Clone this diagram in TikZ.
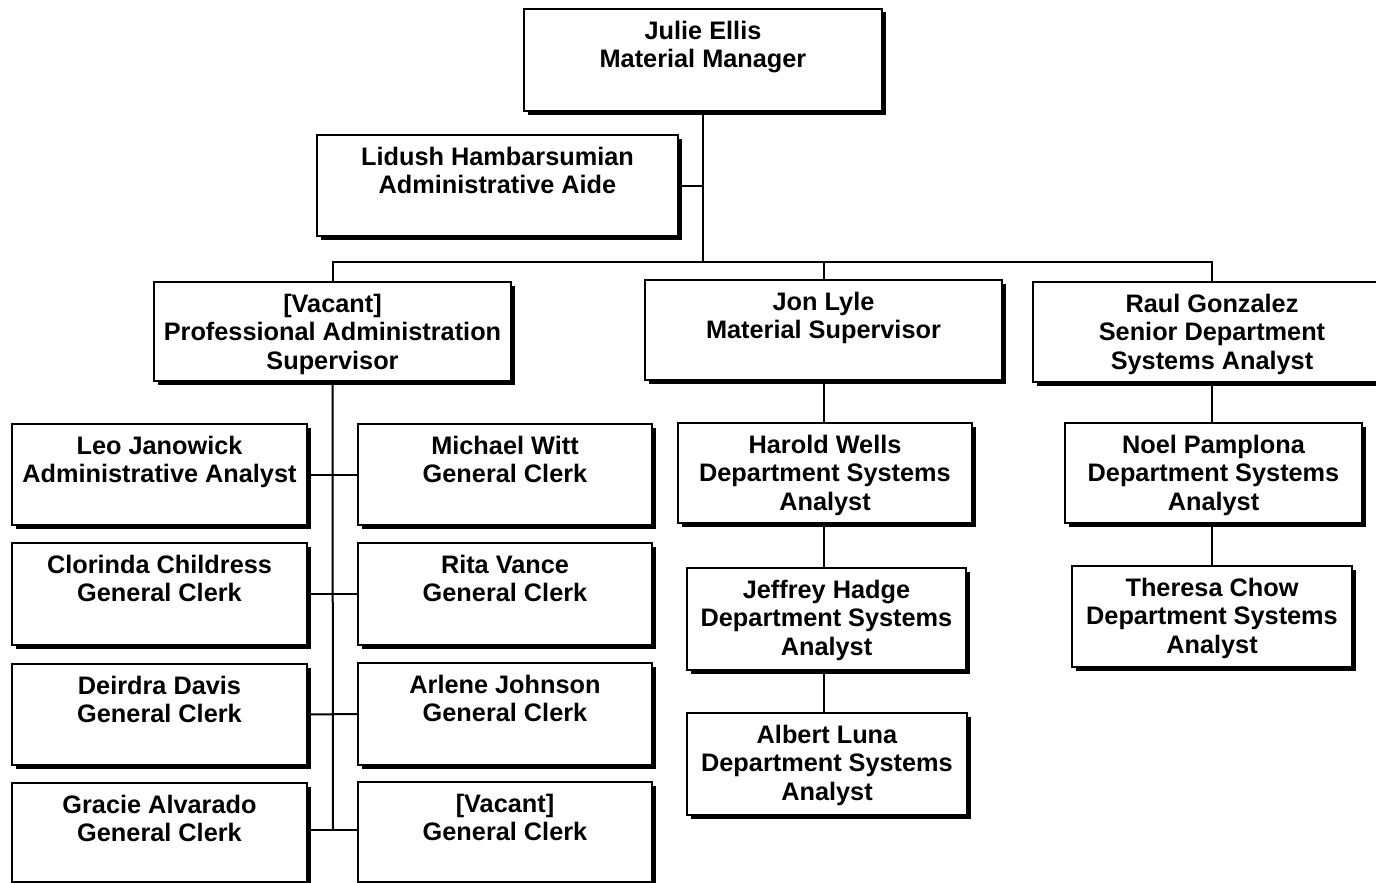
\documentclass[tikz,border=0pt]{standalone}
\usepackage{fontspec}
\setmainfont{Liberation Sans}
\usetikzlibrary{shadows}
\tikzset{
  box/.style={draw=black, fill=white, line width=1.3pt, inner sep=0pt,
    drop shadow={shadow xshift=3.5pt, shadow yshift=-3.5pt, fill=black, opacity=1}},
  lbl/.style={inner sep=0pt, align=center, anchor=north,
    font=\bfseries\fontsize{25.3}{28.5}\selectfont},
  link/.style={draw=black, line width=2pt}
}
\newcommand\obox[6]{%
  \node[box, minimum width={#4-#2}, minimum height={#5-#3}] (#1) at ({(#2+#4)/2},{(#3+#5)/2}) {};
  \node[lbl] (#1-t) at ({(#2+#4)/2},{#3+9}) {\rule{0pt}{21pt}#6};
}
\begin{document}
\begin{tikzpicture}[x=1pt,y=-1pt]
\useasboundingbox (0,0) rectangle (1376,883);
\clip (0,0) rectangle (1376,883);
\fill[white] (0,0) rectangle (1376,883);

\coordinate (bus) at (703,262);
\coordinate (tend) at (333,830);

\obox{julie}{524}{9}{882}{111}{Julie Ellis\\Material Manager}
\obox{lidush}{317}{135}{678}{236}{Lidush Hambarsumian\\Administrative Aide}
\obox{vps}{154}{282}{511}{381}{[Vacant]\\Professional Administration\\Supervisor}
\obox{jon}{645}{280}{1002}{380}{Jon Lyle\\Material Supervisor}
\obox{raul}{1033}{282}{1391}{382}{Raul Gonzalez\\Senior Department\\Systems Analyst}

\obox{leo}{12}{424}{307}{525}{Leo Janowick\\Administrative Analyst}
\obox{mw}{358}{424}{652}{525}{Michael Witt\\General Clerk}
\obox{clo}{12}{543}{307}{645}{Clorinda Childress\\General Clerk}
\obox{rita}{358}{543}{652}{645}{Rita Vance\\General Clerk}
\obox{dei}{12}{664}{307}{765}{Deirdra Davis\\General Clerk}
\obox{arl}{358}{663}{652}{765}{Arlene Johnson\\General Clerk}
\obox{gra}{12}{783}{307}{882}{Gracie Alvarado\\General Clerk}
\obox{vgc}{358}{782}{652}{882}{[Vacant]\\General Clerk}

\obox{harold}{678}{423}{972}{523}{Harold Wells\\Department Systems\\Analyst}
\obox{jeff}{687}{568}{966}{670}{Jeffrey Hadge\\Department Systems\\Analyst}
\obox{albert}{687}{713}{967}{815}{Albert Luna\\Department Systems\\Analyst}
\obox{noel}{1065}{423}{1362}{523}{Noel Pamplona\\Department Systems\\Analyst}
\obox{theresa}{1072}{566}{1352}{667}{Theresa Chow\\Department Systems\\Analyst}

% top structure
\draw[link] (julie.south) -- (julie.south |- bus);
\draw[link] (lidush.east) -- (lidush.east -| julie.south);
\draw[link] (vps.north) -- (vps.north |- bus) -- (raul.north |- bus) -- (raul.north);
\draw[link] (jon.north) -- (jon.north |- bus);

% left trunk
\draw[link] (vps.south) -- (tend);
\draw[link] (leo.east) -- (mw.west);
\draw[link] (clo.east) -- (rita.west);
\draw[link] (dei.east) -- (arl.west);
\draw[link] (gra.east |- tend) -- (vgc.west |- tend);

% middle column
\draw[link] (jon.south) -- (jon.south |- harold.north);
\draw[link] (harold.south -| jon.south) -- (jon.south |- jeff.north);
\draw[link] (jeff.south -| jon.south) -- (jon.south |- albert.north);

% right column
\draw[link] (raul.north |- raul.south) -- (raul.north |- noel.north);
\draw[link] (raul.north |- noel.south) -- (raul.north |- theresa.north);
\end{tikzpicture}
\end{document}
